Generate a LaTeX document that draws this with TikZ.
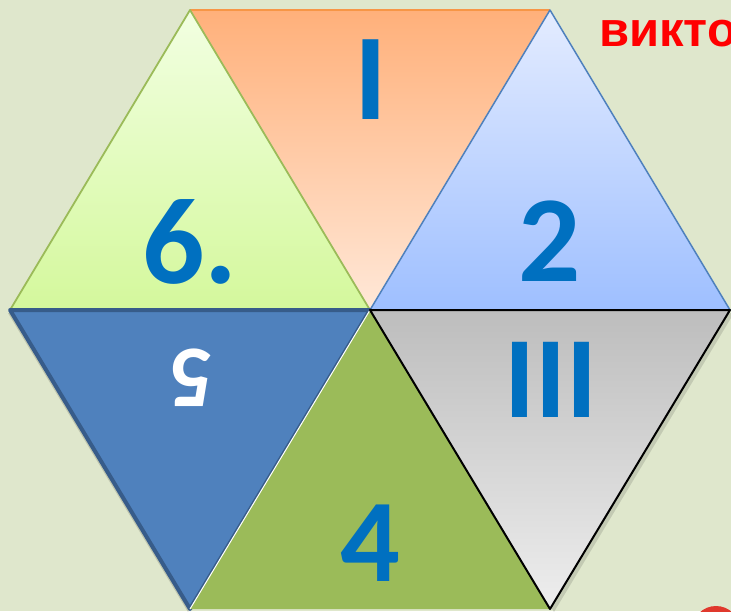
\documentclass[tikz,border=0pt]{standalone}
\usepackage{fontspec}
\newfontfamily\numfont[Scale=1]{Carlito}
\newfontfamily\redfont{Liberation Sans}
\definecolor{bgc}{HTML}{DFE7CC}
\definecolor{numblue}{HTML}{0070C0}
\definecolor{orTop}{HTML}{FFB07A}
\definecolor{orBot}{HTML}{FFE8D8}
\definecolor{orLine}{HTML}{F79646}
\definecolor{grTop}{HTML}{F2FFE2}
\definecolor{grBot}{HTML}{D4F89C}
\definecolor{grLine}{HTML}{9BBB59}
\definecolor{blTop}{HTML}{E4ECFF}
\definecolor{blBot}{HTML}{9EBFFF}
\definecolor{blLine}{HTML}{4F81BD}
\definecolor{dkBlue}{HTML}{4F81BD}
\definecolor{dkBlueLine}{HTML}{375C8A}
\definecolor{olive}{HTML}{9BBB59}
\definecolor{gyTop}{HTML}{BDBDBD}
\definecolor{gyBot}{HTML}{EEEEEE}
\definecolor{redtxt}{HTML}{FF0000}
\definecolor{redcirc}{HTML}{E0392D}
\tikzset{
  numlabel/.style={inner sep=0pt, text=numblue, font=\numfont\bfseries\fontsize{123}{123}\selectfont},
}
\begin{document}
\begin{tikzpicture}[x=1pt,y=-1pt]
\useasboundingbox (0,0) rectangle (731,611);
\clip (0,0) rectangle (731,611);
\fill[bgc] (0,0) rectangle (731,611);
% vertices
\coordinate (TL) at (190,10);
\coordinate (TR) at (550,10);
\coordinate (L) at (10,310);
\coordinate (C) at (370,310);
\coordinate (R) at (730,310);
\coordinate (BL) at (190,609);
\coordinate (BR) at (550,609);
% top triangle (orange)
\shade[top color=orTop, bottom color=orBot] (TL) -- (TR) -- (C) -- cycle;
\draw[orLine, line width=1.5pt] (TL) -- (TR);
% top-left (light green)
\shade[top color=grTop, bottom color=grBot] (TL) -- (C) -- (L) -- cycle;
\draw[grLine, line width=1.8pt, line join=round] (TL) -- (C) -- (L) -- cycle;
% top-right (light blue)
\shade[top color=blTop, bottom color=blBot] (TR) -- (R) -- (C) -- cycle;
\draw[blLine, line width=1.5pt, line join=round] (TR) -- (R) -- (C) -- cycle;
% bottom-right (gray) shadow
\fill[black, opacity=0.12] ([shift={(4,3)}]C) -- ([shift={(4,3)}]R) -- ([shift={(4,3)}]BR) -- cycle;
% bottom-left (dark blue)
\fill[black, opacity=0.15] ([shift={(-2,3)}]L) -- ([shift={(-2,3)}]C) -- ([shift={(-2,3)}]BL) -- cycle;
\fill[dkBlue] (L) -- (C) -- (BL) -- cycle;
\draw[dkBlueLine, line width=4pt, line join=round] (L) -- (C) -- (BL) -- cycle;
% bottom (olive)
\fill[olive] (C) -- (BR) -- (BL) -- cycle;
\draw[white, line width=1pt] (BL) -- (C);
% bottom-right (gray)
\shade[top color=gyTop, bottom color=gyBot] (C) -- (R) -- (BR) -- cycle;
\draw[black, line width=2pt, line join=round] (C) -- (R) -- (BR) -- cycle;
% labels
\node[numlabel] (n1) at (371,80) {I};
\node[numlabel] (n6) at (190,242) {6.};
\node[numlabel] (n2) at (550,241) {2};
\node[numlabel, font=\numfont\bfseries\fontsize{116}{116}\selectfont] (n3) at (551,380) {III};
\node[numlabel, text=white, rotate=180, font=\numfont\bfseries\fontsize{88}{88}\selectfont] (n5) at (191,378) {5};
\node[numlabel, font=\numfont\bfseries\fontsize{118}{118}\selectfont] (n4) at (370,543) {4};
\node[anchor=west, inner sep=0pt, text=redtxt, font=\redfont\bfseries\fontsize{49}{49}\selectfont] (vik) at (599,34) {викто};
\fill[redcirc] (716,630) circle (24);
\end{tikzpicture}
\end{document}
